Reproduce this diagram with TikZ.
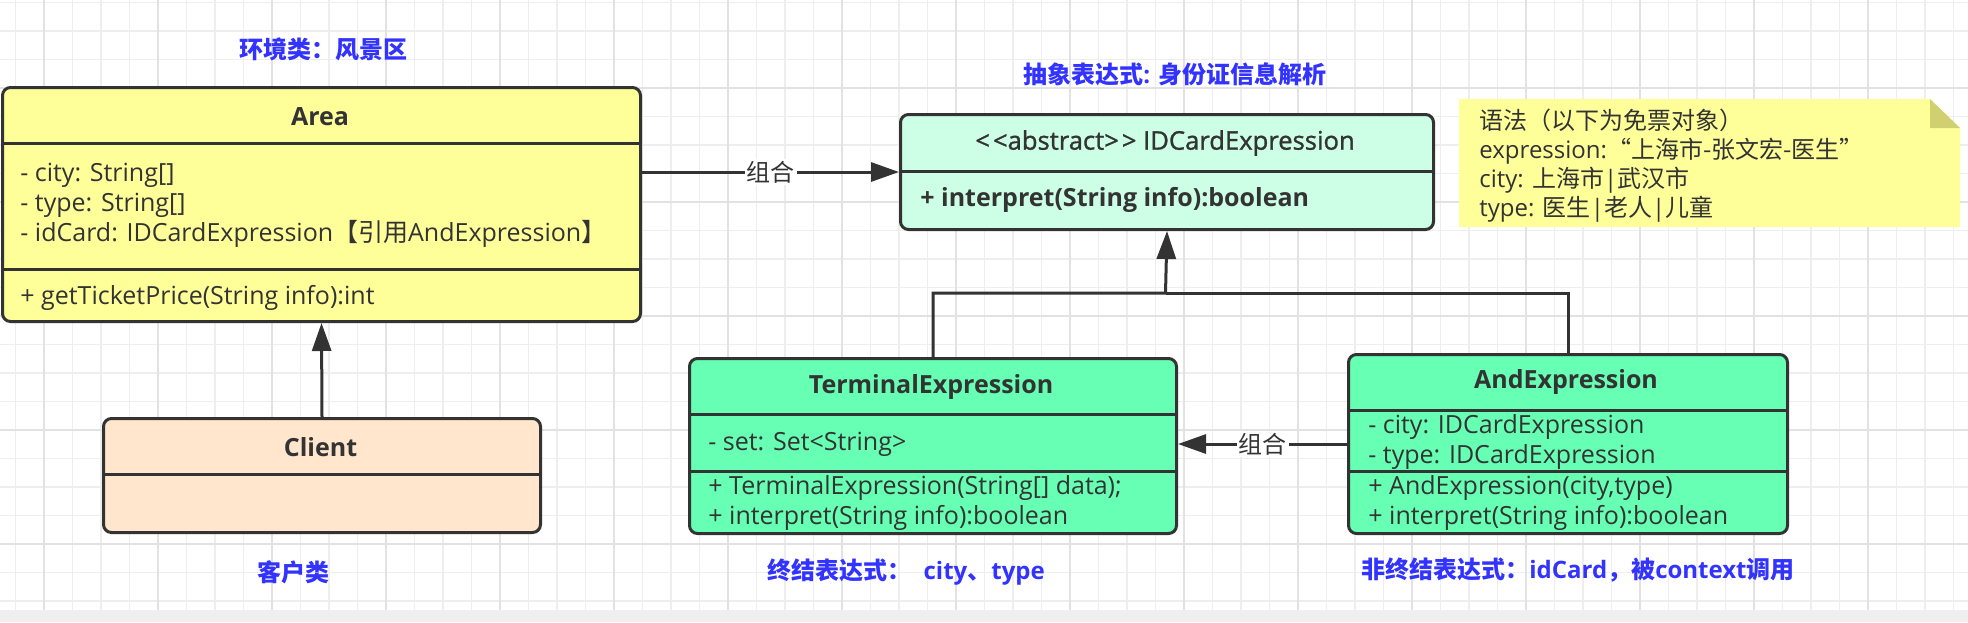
\documentclass[tikz,border=0pt]{standalone}
\usepackage{fontspec}
\setmainfont{Open Sans}
\newfontfamily\cjk{Noto Sans CJK SC}
\newfontfamily\medfont{Open Sans}[FakeBold=1.2]
\usetikzlibrary{arrows.meta}
\definecolor{ink}{HTML}{333333}
\definecolor{gridminor}{HTML}{EEEEEE}
\definecolor{gridmajor}{HTML}{E2E2E2}
\definecolor{strip}{HTML}{EFEFEF}
\definecolor{areaY}{HTML}{FFFF99}
\definecolor{clientO}{HTML}{FFE6CC}
\definecolor{absG}{HTML}{CCFFE6}
\definecolor{concG}{HTML}{66FFB3}
\definecolor{noteY}{HTML}{FFFF99}
\definecolor{noteFold}{HTML}{D0D070}
\definecolor{lblue}{HTML}{3333FF}
\tikzset{
  umlbox/.style={draw=ink, line width=1.5pt, rounded corners=4pt, anchor=north west, inner sep=0pt},
  divider/.style={draw=ink, line width=1.5pt},
  tx/.style={font=\fontsize{12.5}{15}\selectfont, text=ink, inner sep=0pt, align=left},
  cname/.style={font=\fontsize{12.5}{15}\selectfont\bfseries, text=ink, inner sep=0pt},
  conn/.style={draw=ink, line width=1.5pt, -{Triangle[length=14pt,width=9.5pt]}},
  plainconn/.style={draw=ink, line width=1.5pt},
  lbl/.style={fill=white, font=\fontsize{12}{14}\cjk, text=ink, inner sep=1pt},
  bluelbl/.style={font=\fontsize{12}{14}\selectfont\bfseries, text=lblue, inner sep=0pt},
  gmin/.style={draw=gridminor, line width=0.6pt},
  gmaj/.style={draw=gridmajor, line width=0.9pt}
}
\begin{document}
\begin{tikzpicture}[x=0.5pt,y=-0.5pt]
\useasboundingbox (0,0) rectangle (1968,622);
\fill[white] (0,0) rectangle (1968,622);
% grid
\foreach \k in {0,...,68} { \draw[gmin] ({15.5+28.5*\k},0) -- ({15.5+28.5*\k},610); }
\foreach \k in {0,...,21} { \draw[gmin] (0,{2.5+28.5*\k}) -- (1968,{2.5+28.5*\k}); }
\foreach \k in {0,...,16} { \draw[gmaj] ({44+114*\k},0) -- ({44+114*\k},610); }
\foreach \k in {0,...,4} { \draw[gmaj] (0,{88+114*\k}) -- (1968,{88+114*\k}); }
\fill[strip] (0,610) rectangle (1968,622);

% Area
\node[umlbox, fill=areaY, minimum width=319pt, minimum height=117pt] (area) at (1,86) {};
\draw[divider] (1,143) -- (639,143);
\draw[divider] (1,269) -- (639,269);
\node[cname] (areaname) at (320,117) {Area};
\node[tx, anchor=west] (areaattr) at (20,205) {- city: String[]\\- type: String[]\\- idCard: IDCardExpression{\cjk 【引用}AndExpression{\cjk 】}};
\node[tx, anchor=west] (areameth) at (20,298) {+ getTicketPrice(String info):int};

% Client
\node[umlbox, fill=clientO, minimum width=218.5pt, minimum height=57pt] (client) at (102,417) {};
\draw[divider] (102,474) -- (539,474);
\node[cname] (clientname) at (320.5,447) {Client};

% IDCardExpression
\node[umlbox, fill=absG, minimum width=266.5pt, minimum height=57.5pt] (idc) at (899,113) {};
\draw[divider] (899,171) -- (1432,171);
\node[tx, font=\fontsize{12.8}{15}\medfont] (idcname) at (1165,143) {<\kern1.5pt<abstract>\kern1.5pt> IDCardExpression};
\node[tx, font=\fontsize{12.5}{15}\selectfont\bfseries, anchor=west] (idcmeth) at (920,200) {+ interpret(String info):boolean};

% TerminalExpression
\node[umlbox, fill=concG, minimum width=243.5pt, minimum height=87.5pt] (term) at (688,357) {};
\draw[divider] (688,414) -- (1175,414);
\draw[divider] (688,471) -- (1175,471);
\node[cname] (termname) at (931,387) {TerminalExpression};
\node[tx, anchor=west] (termattr) at (708,444) {- set: Set<String>};
\node[tx, anchor=west] (termmeth) at (708,502.5) {+ TerminalExpression(String[] data);\\+ interpret(String info):boolean};

% AndExpression
\node[umlbox, fill=concG, minimum width=219.5pt, minimum height=89.5pt] (and) at (1347,353) {};
\draw[divider] (1347,410) -- (1786,410);
\draw[divider] (1347,471) -- (1786,471);
\node[cname] (andname) at (1566,382) {AndExpression};
\node[tx, anchor=west] (andattr) at (1368,442) {- city: IDCardExpression\\- type: IDCardExpression};
\node[tx, anchor=west] (andmeth) at (1368,503) {+ AndExpression(city,type)\\+ interpret(String info):boolean};

% Note
\fill[noteY] (1459,99) -- (1930,99) -- (1960,128) -- (1960,227) -- (1459,227) -- cycle;
\fill[noteFold] (1930,99) -- (1930,128) -- (1960,128) -- cycle;
\node[tx, font=\fontsize{12}{14.5}\selectfont, anchor=west] (notetext) at (1479,165.5) {{\cjk 语法（以下为免票对象）}\\expression:{\cjk “上海市-张文宏-医生”}\\city: {\cjk 上海市}|{\cjk 武汉市}\\type: {\cjk 医生}|{\cjk 老人}|{\cjk 儿童}};

% Blue labels
\node[bluelbl] (t1) at (323,49) {\cjk 环境类：风景区};
\node[bluelbl] (t2) at (1175,74) {{\cjk 抽象表达式}: {\cjk 身份证信息解析}};
\node[bluelbl] (t3) at (293,572) {\cjk 客户类};
\node[bluelbl] (t4) at (906,572) {{\cjk 终结表达式：}\ \ city{\cjk 、}type};
\node[bluelbl] (t5) at (1578,570) {{\cjk 非终结表达式：}idCard{\cjk ，被}context{\cjk 调用}};

% Connectors
\draw[conn] (client.north) -- (area.south);
\draw[conn] (area.east |- idc.west) -- node[lbl] {组合} (idc.west);
\draw[conn] (and.west) -- node[lbl] {组合} (term.east |- and.west);
\coordinate (j) at (1165.5,293);
\draw[conn] (term.north) |- (j) -- (idc.south);
\draw[plainconn] (and.north) |- (j);
\end{tikzpicture}
\end{document}
